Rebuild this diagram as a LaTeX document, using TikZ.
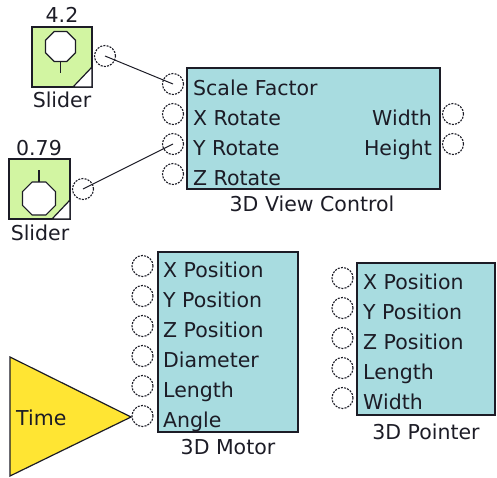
\documentclass[tikz,border=0pt]{standalone}
\usepackage{fontspec}
\setmainfont{DejaVu Sans}
\usepackage{tikz}
\usetikzlibrary{positioning,calc}
\usepackage{xcolor}
\definecolor{ink}{HTML}{1C1C26}
\definecolor{panel}{HTML}{A8DCE0}
\definecolor{leaf}{HTML}{D2F5A2}
\definecolor{sun}{HTML}{FFE533}
\newcommand{\blockfont}{\fontsize{20.5}{24}\selectfont}
\tikzset{block/.style={draw=ink,fill=panel,line width=1.3pt}, slidebox/.style={draw=ink,fill=leaf,line width=1.3pt},notch/.style={draw=ink,fill=white,line width=1.2pt,line join=miter},knob/.style={draw=ink,fill=white,line width=1.2pt,line join=miter}, stem/.style={draw=ink,line width=1.3pt},port/.style={circle,draw=ink,fill=white,line width=1.1pt,dash pattern=on 2pt off 1.2pt,minimum size=21pt,inner sep=0pt},pin/.style={anchor=base west,inner sep=0pt,font=\blockfont,text=ink},pinright/.style={anchor=base east,inner sep=0pt,font=\blockfont,text=ink},caption/.style={anchor=base,inner sep=0pt,font=\blockfont,text=ink},wire/.style={draw=ink,line width=1pt},timer/.style={draw=ink,fill=sun,line width=1.2pt,line join=miter}}

\begin{document}
\begin{tikzpicture}[x=1pt,y=-1pt]
\useasboundingbox (0,0) rectangle (497,477);
\draw[slidebox] (32,27) rectangle (92,87); \draw[notch] (73,87)--(92,67)--(92,87)--cycle;
\coordinate (k1) at (60.5,46.5);
\draw[knob] (k1) +(22.5:16.2) \foreach \a in {67.5,112.5,...,337.5} {-- +(\a:16.2)} -- cycle;
\draw[stem] ($(k1)+(0,15)$) -- (60.5,73);
\node[caption] (v1) at (62,22) {4.2}; \node[caption] (n1) at (62,107) {Slider};
\node[port] (s1out) at (105,56) {};
\draw[slidebox] (9,159) rectangle (70,219); \draw[notch] (52,219)--(70,200)--(70,219)--cycle;
\coordinate (k2) at (39,198.5);
\draw[knob] (k2) +(22.5:17.9) \foreach \a in {67.5,112.5,...,337.5} {-- +(\a:17.9)} -- cycle;
\draw[stem] (39,170) -- ($(k2)+(0,-16.5)$);
\node[caption] (v2) at (39,155) {0.79}; \node[caption] (n2) at (40,240) {Slider};
\node[port] (s2out) at (83,189) {};
\draw[block] (187,68) rectangle (440,189);
\foreach \y/\t/\n in {84/Scale Factor/sf,114/X Rotate/x,144/Y Rotate/y,174/Z Rotate/z} {\node[port] (vc\n) at (173,\y) {}; \node[pin] (vc\n-t) at (193,\y+11) {\t};}
\node[port] (vcw) at (453,114) {}; \node[pinright] (vcw-t) at (432,125) {Width};
\node[port] (vch) at (453,144) {}; \node[pinright] (vch-t) at (432,155) {Height};
\node[caption] (vclab) at (312,211) {3D View Control};
\draw[wire] (s1out.center) -- (vcsf.center); \draw[wire] (s2out.center) -- (vcy.center);
\draw[block] (158,252) rectangle (298,432);
\foreach \y/\t/\n in {266/X Position/x,296/Y Position/y,326/Z Position/z,356/Diameter/d,386/Length/l,416/Angle/a} {\node[port] (mo\n) at (142.5,\y) {}; \node[pin] (mo\n-t) at (163,\y+11) {\t};}
\node[caption] (molab) at (228,454) {3D Motor};
\draw[block] (357,263) rectangle (495,415);
\foreach \y/\t/\n in {278/X Position/x,308/Y Position/y,338/Z Position/z,368/Length/l,398/Width/w} {\node[port] (po\n) at (342.5,\y) {}; \node[pin] (po\n-t) at (363,\y+11) {\t};}
\node[caption] (polab) at (426,439) {3D Pointer};
\coordinate (tA) at (10,357); \coordinate (tB) at (131,417); \coordinate (tC) at (10,476);
\draw[timer] (tA)--(tB)--(tC)--cycle; \node[pin] (time) at (16,425) {Time};
\end{tikzpicture}
\end{document}
